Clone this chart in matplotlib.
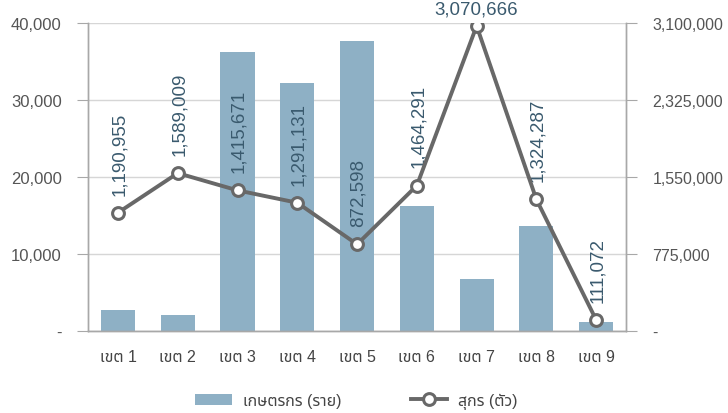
import matplotlib
matplotlib.use("Agg")
import matplotlib.pyplot as plt
import matplotlib.ticker as mticker
from matplotlib.lines import Line2D
from matplotlib.patches import Patch

plt.rcParams['font.family'] = ['Liberation Sans', 'Noto Sans Thai', 'DejaVu Sans']

# --- data ---
zones = ['เขต 1', 'เขต 2', 'เขต 3', 'เขต 4', 'เขต 5', 'เขต 6', 'เขต 7', 'เขต 8', 'เขต 9']
farmers = [2700, 2100, 36300, 32200, 37600, 16300, 6800, 13700, 1200]
pigs = [1190955, 1589009, 1415671, 1291131, 872598, 1464291, 3070666, 1324287, 111072]
left_ticks = [0, 10000, 20000, 30000, 40000]
right_ticks = [0, 775000, 1550000, 2325000, 3100000]

bar_color = '#8eb0c5'
line_color = '#686868'
label_color = '#3a5a6e'
axis_color = '#a8a8a8'
tick_text = '#555555'

fig = plt.figure(figsize=(7.28, 4.14), dpi=100)
ax = fig.add_axes([0.121, 0.198, 0.739, 0.744])
ax2 = ax.twinx()

x = list(range(len(zones)))
ax.bar(x, farmers, width=0.57, color=bar_color, zorder=2)
ax.set_xlim(-0.5, len(zones) - 0.5)
ax.set_ylim(0, 40000)
ax.set_yticks(left_ticks)
ax.yaxis.set_major_formatter(mticker.FuncFormatter(lambda v, p: '-' if v == 0 else f'{v:,.0f}'))
ax.set_xticks(x)
ax.set_xticklabels(zones, fontsize=11.5, color='#444444')
ax.tick_params(axis='x', length=0, pad=13)
ax.tick_params(axis='y', length=8, color=axis_color, labelsize=12, labelcolor=tick_text, pad=11)
ax.grid(axis='y', color='#d6d6d6', linewidth=1, zorder=0)
ax.set_axisbelow(True)

ax2.plot(x, pigs, color=line_color, linewidth=2.8, marker='o', markersize=8.5,
         markerfacecolor='white', markeredgecolor=line_color, markeredgewidth=2.2, zorder=5)
ax2.set_ylim(0, 3100000)
ax2.set_yticks(right_ticks)
ax2.yaxis.set_major_formatter(mticker.FuncFormatter(lambda v, p: '-' if v == 0 else f'{v:,.0f}'))
ax2.tick_params(axis='y', length=8, color=axis_color, labelsize=11.5, labelcolor=tick_text, pad=11)

for a in (ax, ax2):
    a.spines['top'].set_visible(False)
    for s in ('left', 'right', 'bottom'):
        a.spines[s].set_color(axis_color)
        a.spines[s].set_linewidth(1)

# value labels
peak = pigs.index(max(pigs))
for i, v in enumerate(pigs):
    if i == peak:
        ax2.annotate(f'{v:,}', (i, v), xytext=(0, 6), textcoords='offset points',
                     ha='center', va='bottom', fontsize=13.5, color=label_color, annotation_clip=False)
    else:
        ax2.annotate(f'{v:,}', (i, v), xytext=(1, 13), textcoords='offset points',
                     ha='center', va='bottom', rotation=90, fontsize=13.5, color=label_color)

handles = [Patch(facecolor=bar_color, edgecolor='none'),
           Line2D([0], [0], color=line_color, linewidth=2.8, marker='o', markersize=8.5,
                  markerfacecolor='white', markeredgecolor=line_color, markeredgewidth=2.2)]
fig.legend(handles, ['เกษตรกร (ราย)', 'สุกร (ตัว)'], loc='lower center', ncol=2,
           bbox_to_anchor=(0.49, -0.025), frameon=False, fontsize=11.5, handlelength=2.3,
           handletextpad=0.7, columnspacing=4.3, labelcolor='#444444')

fig.savefig('out.png', dpi=100)
